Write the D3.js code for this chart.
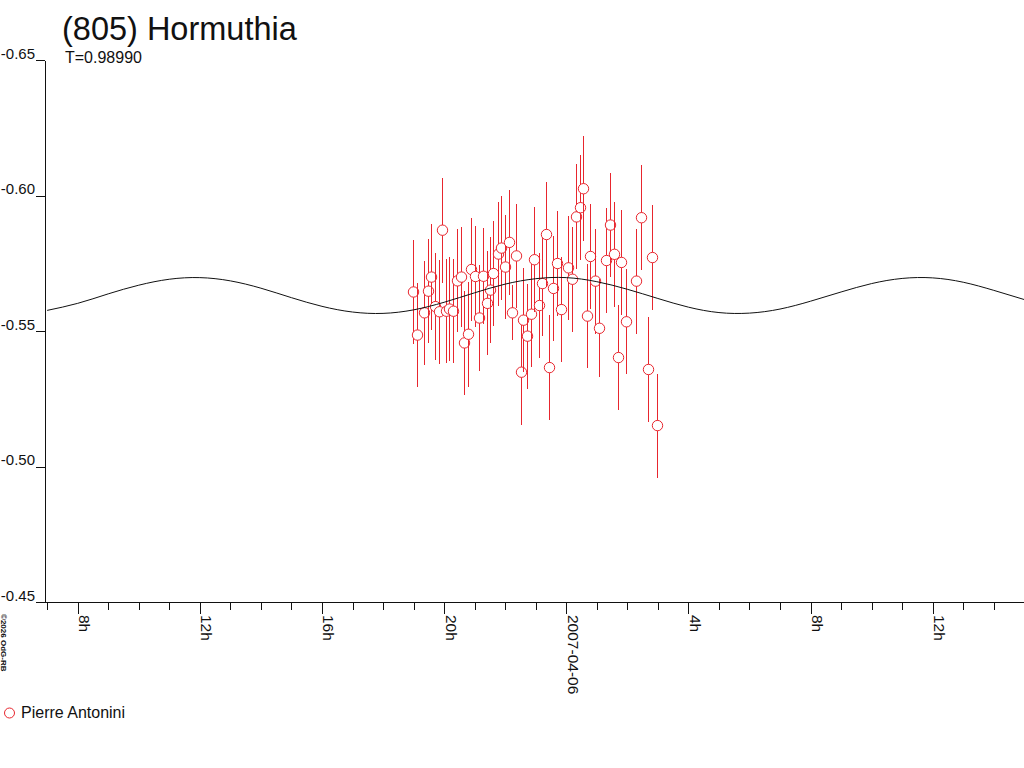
<!DOCTYPE html>
<html>
<head>
<meta charset="utf-8">
<script src="https://cdn.jsdelivr.net/npm/d3@7"></script>
<style>
  html, body { margin: 0; padding: 0; background: #fff; }
  svg { display: block; font-family: "Liberation Sans", Arial, sans-serif; }
</style>
</head>
<body>
<svg id="chart" width="1024" height="768"></svg>
<script>
// ---- data (hours relative to 2007-04-06 00:00 UT, magnitudes) ----
const title = "(805) Hormuthia";
const subtitle = "T=0.98990";
const observer = "Pierre Antonini";
const copyright = "\u00A92026 OdG-RB";

const obsHours = [-5.033,-4.902,-4.673,-4.542,-4.422,-4.314,-4.183,-4.072,-3.948,-3.824,
  -3.703,-3.582,-3.451,-3.333,-3.219,-3.105,-2.974,-2.863,-2.732,-2.608,
  -2.493,-2.386,-2.248,-2.124,-2.003,-1.882,-1.765,-1.654,-1.490,-1.405,
  -1.275,-1.163,-1.046,-0.908,-0.784,-0.657,-0.556,-0.425,-0.294,-0.163,
  0.065,0.196,0.333,0.458,0.556,0.686,0.784,0.948,1.059,1.297,
  1.438,1.569,1.680,1.797,1.958,2.297,2.451,2.680,2.810,2.964];
const obsMag = [-0.5644,-0.5485,-0.5567,-0.5647,-0.5699,-0.5590,-0.5571,-0.5872,-0.5573,-0.5581,
  -0.5573,-0.5685,-0.5699,-0.5456,-0.5488,-0.5727,-0.5701,-0.5548,-0.5702,-0.5602,
  -0.5651,-0.5712,-0.5784,-0.5806,-0.5736,-0.5827,-0.5567,-0.5777,-0.5348,-0.5540,
  -0.5481,-0.5562,-0.5763,-0.5594,-0.5675,-0.5856,-0.5365,-0.5657,-0.5749,-0.5579,
  -0.5733,-0.5691,-0.5921,-0.5955,-0.6025,-0.5555,-0.5775,-0.5684,-0.5510,-0.5760,
  -0.5891,-0.5783,-0.5402,-0.5753,-0.5534,-0.5684,-0.5918,-0.5358,-0.5771,-0.5151];
const obsErr = [0.0193,0.0192,0.0193,0.0193,0.0194,0.0196,0.0192,0.0194,0.0192,0.0193,
  0.0192,0.0190,0.0186,0.0193,0.0193,0.0191,0.0186,0.0194,0.0177,0.0192,
  0.0195,0.0194,0.0193,0.0192,0.0192,0.0194,0.0102,0.0192,0.0196,0.0192,
  0.0194,0.0193,0.0193,0.0192,0.0193,0.0192,0.0193,0.0193,0.0195,0.0194,
  0.0192,0.0193,0.0194,0.0193,0.0194,0.0193,0.0193,0.0194,0.0181,0.0193,
  0.0193,0.0193,0.0193,0.0194,0.0193,0.0194,0.0194,0.0193,0.0194,0.0192];

const fitHours = [-17,-16,-15,-14,-13,-12,-11,-10,-9,-8,-7,-6,-5,-4,-3,-2,-1,
  0,1,2,3,4,5,6,7,8,9,10,11,12,13,14,15];
const fitMag = [-0.5576,-0.5602,-0.5637,-0.5669,-0.5691,-0.5697,-0.5685,-0.5658,-0.5623,-0.5591,
  -0.5570,-0.5565,-0.5578,-0.5606,-0.5641,-0.5673,-0.5693,-0.5697,-0.5682,-0.5654,
  -0.5620,-0.5588,-0.5568,-0.5566,-0.5581,-0.5610,-0.5644,-0.5675,-0.5694,-0.5696,
  -0.5680,-0.5650,-0.5616];

const xDomainHours = [-17.07, 14.99];
const xMajorHours = [-16,-12,-8,-4,0,4,8,12];
const xMajorLabels = ["8h","12h","16h","20h","2007-04-06","4h","8h","12h"];
const yTicks = [-0.65,-0.60,-0.55,-0.50,-0.45];
const yTickLabels = ["-0.65","-0.60","-0.55","-0.50","-0.45"];

// ---- drawing ----
(function () {
const base = Date.UTC(2007, 3, 6);
const toDate = h => new Date(base + h * 3600e3);

const svg = d3.select("#chart");
const pLeft = 45, pRight = 1024, pTop = 60, pBottom = 602;
const red = "#e8262e";
const ink = "#111";

const x = d3.scaleUtc().domain(xDomainHours.map(toDate)).range([pLeft, pRight]);
const y = d3.scaleLinear().domain([-0.65, -0.45]).range([pTop, pBottom]);

svg.append("rect").attr("width", 1024).attr("height", 768).attr("fill", "#fff");

svg.append("defs").append("clipPath").attr("id", "plotclip")
  .append("rect").attr("x", pLeft).attr("y", 0).attr("width", pRight - pLeft).attr("height", pBottom);

// observations
const obs = obsHours.map((h, i) => ({ t: toDate(h), m: obsMag[i], e: obsErr[i] }));
const gObs = svg.append("g").attr("clip-path", "url(#plotclip)");
obs.forEach(d => {
  const cx = Math.round(x(d.t)) + 0.5;
  gObs.append("line")
    .attr("x1", cx).attr("x2", cx)
    .attr("y1", y(d.m - d.e)).attr("y2", y(d.m + d.e))
    .attr("stroke", red).attr("stroke-width", 1).attr("shape-rendering", "crispEdges");
  gObs.append("circle")
    .attr("cx", cx).attr("cy", y(d.m)).attr("r", 5.2)
    .attr("fill", "#fff").attr("stroke", red).attr("stroke-width", 1);
});

// fitted curve
const fit = fitHours.map((h, i) => ({ t: toDate(h), m: fitMag[i] }));
svg.append("path")
  .datum(fit)
  .attr("clip-path", "url(#plotclip)")
  .attr("fill", "none").attr("stroke", ink).attr("stroke-width", 1)
  .attr("d", d3.line().x(d => x(d.t)).y(d => y(d.m)).curve(d3.curveNatural));

// x axis: minor (hourly) and major (4 h)
const xMinor = d3.axisBottom(x).ticks(d3.utcHour.every(1)).tickSize(8).tickSizeOuter(0).tickFormat("");
const gxMinor = svg.append("g").attr("transform", `translate(0,${pBottom})`).call(xMinor);
gxMinor.select(".domain").attr("stroke", ink).attr("shape-rendering", "crispEdges");
gxMinor.selectAll(".tick line").attr("stroke", ink).attr("shape-rendering", "crispEdges");

const xMajor = d3.axisBottom(x).tickValues(xMajorHours.map(toDate)).tickSize(12).tickSizeOuter(0)
  .tickFormat((d, i) => xMajorLabels[i]);
const gxMajor = svg.append("g").attr("transform", `translate(0,${pBottom})`).call(xMajor);
gxMajor.select(".domain").remove();
gxMajor.selectAll(".tick line").attr("stroke", ink).attr("shape-rendering", "crispEdges");
gxMajor.selectAll(".tick text")
  .attr("fill", ink).attr("font-size", 15.5)
  .attr("text-anchor", "start").attr("dy", null).attr("y", null)
  .attr("transform", "translate(1,13) rotate(90)");

// y axis
const yAxis = d3.axisLeft(y).tickValues(yTicks).tickSize(9).tickSizeOuter(0)
  .tickFormat((d, i) => yTickLabels[i]);
const gy = svg.append("g").attr("transform", `translate(${pLeft},0)`).call(yAxis);
gy.select(".domain").attr("stroke", ink).attr("shape-rendering", "crispEdges");
gy.selectAll(".tick line").attr("stroke", ink).attr("shape-rendering", "crispEdges");
gy.selectAll(".tick text")
  .attr("fill", ink).attr("font-size", 15)
  .attr("x", -10).attr("dy", "-2").attr("text-anchor", "end");

// titles
svg.append("text").attr("x", 62).attr("y", 40).attr("font-size", 32.5).attr("fill", ink).text(title);
svg.append("text").attr("x", 65).attr("y", 63).attr("font-size", 16).attr("fill", ink).text(subtitle);

// copyright (rotated)
svg.append("text").attr("transform", "translate(1,614) rotate(90)")
  .attr("font-size", 8).attr("font-weight", "bold").attr("fill", ink).text(copyright);

// legend
svg.append("circle").attr("cx", 9.5).attr("cy", 713).attr("r", 5)
  .attr("fill", "#fff").attr("stroke", red).attr("stroke-width", 1);
svg.append("text").attr("x", 21).attr("y", 718).attr("font-size", 16).attr("fill", ink).text(observer);
})();
</script>
</body>
</html>
